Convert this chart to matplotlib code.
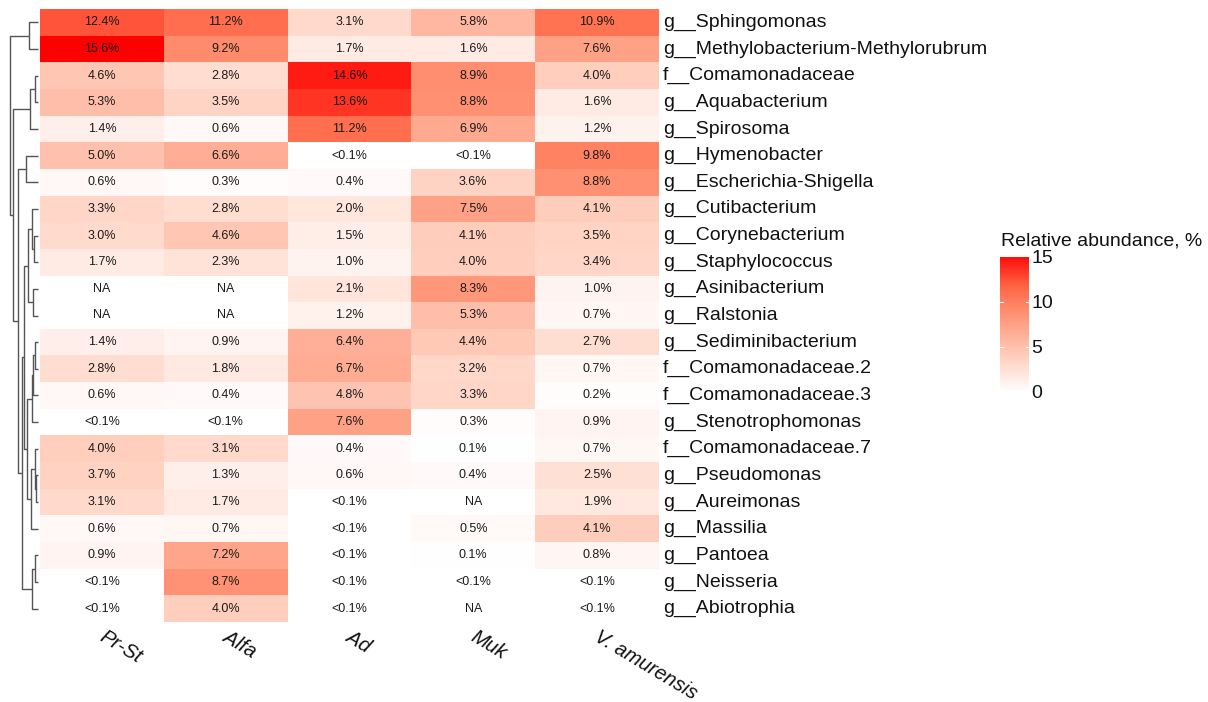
import numpy as np
import matplotlib
matplotlib.use('Agg')
import matplotlib.pyplot as plt
from matplotlib.colors import LinearSegmentedColormap, Normalize

### Relative abundance (%) of top taxa per sample; nan = NA, 0.05 stands for "<0.1"
samples= ['Pr-St','Alfa','Ad','Muk','V. amurensis']
taxa= ['g__Sphingomonas','g__Methylobacterium-Methylorubrum','f__Comamonadaceae',
       'g__Aquabacterium','g__Spirosoma','g__Hymenobacter','g__Escherichia-Shigella',
       'g__Cutibacterium','g__Corynebacterium','g__Staphylococcus','g__Asinibacterium',
       'g__Ralstonia','g__Sediminibacterium','f__Comamonadaceae.2','f__Comamonadaceae.3',
       'g__Stenotrophomonas','f__Comamonadaceae.7','g__Pseudomonas','g__Aureimonas',
       'g__Massilia','g__Pantoea','g__Neisseria','g__Abiotrophia']
NA= np.nan
pr_st= [12.4,15.6,4.6,5.3,1.4,5.0,0.6,3.3,3.0,1.7,NA,NA,1.4,2.8,0.6,0.05,4.0,3.7,3.1,0.6,0.9,0.05,0.05]
alfa=  [11.2,9.2,2.8,3.5,0.6,6.6,0.3,2.8,4.6,2.3,NA,NA,0.9,1.8,0.4,0.05,3.1,1.3,1.7,0.7,7.2,8.7,4.0]
ad=    [3.1,1.7,14.6,13.6,11.2,0.05,0.4,2.0,1.5,1.0,2.1,1.2,6.4,6.7,4.8,7.6,0.4,0.6,0.05,0.05,0.05,0.05,0.05]
muk=   [5.8,1.6,8.9,8.8,6.9,0.05,3.6,7.5,4.1,4.0,8.3,5.3,4.4,3.2,3.3,0.3,0.1,0.4,NA,0.5,0.1,0.05,NA]
v_amur=[10.9,7.6,4.0,1.6,1.2,9.8,8.8,4.1,3.5,3.4,1.0,0.7,2.7,0.7,0.2,0.9,0.7,2.5,1.9,4.1,0.8,0.05,0.05]

### Row clustering: (left, right, height); leaves 0..22, new nodes numbered from 23
merges= [(0,1,9),(2,3,3),(24,4,8),(5,6,12),(8,9,4),(7,27,6),(10,11,5),(28,29,10),
         (12,13,3.5),(31,14,5),(32,15,6.3),(17,18,2),(16,34,3.5),(35,19,7),(33,36,11.5),
         (30,37,14),(20,21,3),(39,22,6),(38,40,16),(26,41,20),(25,42,25.3),(23,43,28)]

cbar_ticks= [0,5,10,15]

def cell_label(v):
    if np.isnan(v): return 'NA'
    if v<0.1: return '<0.1%'
    return '{:.1f}%'.format(v)

def draw_dendro(ax, merges, nleaf, c='#555555'):
    ypos= {i: float(i) for i in range(nleaf)}
    hgt= {i: 0. for i in range(nleaf)}
    for k,(a,b,h) in enumerate(merges):
        ya,yb= ypos[a],ypos[b]
        ax.plot([hgt[a],h,h,hgt[b]],[ya,ya,yb,yb],c=c,lw=1.0,solid_capstyle='butt')
        ypos[nleaf+k]= (ya+yb)/2
        hgt[nleaf+k]= h
    return

def main():
    vals= np.array([pr_st,alfa,ad,muk,v_amur]).T
    pdata= dict(vals=vals, rows=taxa, cols=samples, merges=merges, fnout='out.png')
    plot_main(pdata)
    return

def plot_main(pdata):
    vals= pdata['vals']
    nr,nc= vals.shape
    W,H= 1208,702
    plt.rcParams['font.family']= ['Liberation Sans','DejaVu Sans']

    fig= plt.figure()
    fig.set_size_inches(W/100,H/100)

    def px_axes(x0,y0,x1,y1):  # pixel box (top-left origin) -> axes
        return fig.add_axes([x0/W,1-y1/H,(x1-x0)/W,(y1-y0)/H])

    cmap= LinearSegmentedColormap.from_list('wr',[(0,'#FFFFFF'),(0.25,'#FFCFBE'),
                    (0.5,'#FF9E82'),(0.75,'#FF6746'),(1,'#FF0000')])
    cmap.set_bad('white')
    norm= Normalize(vmin=0,vmax=np.nanmax(vals))

    ### Heatmap
    ax1= px_axes(40,9,659,622)
    ax1.pcolormesh(np.arange(nc+1),np.arange(nr+1),np.ma.masked_invalid(vals),
                   cmap=cmap,norm=norm,edgecolors='none')
    ax1.set_xlim(0,nc); ax1.set_ylim(nr,0)
    ax1.axis('off')
    for i in range(nr):
        for j in range(nc):
            ax1.text(j+0.5,i+0.5,cell_label(vals[i,j]),ha='center',va='center',
                     fontsize=9,color='#1a1a1a')
        ax1.text(nc+0.03,i+0.5,pdata['rows'][i],ha='left',va='center',fontsize=14,
                 color='#111111',clip_on=False)
    for j,lab in enumerate(pdata['cols']):
        ax1.text(j+0.53,nr+0.18,lab,ha='left',va='top',rotation=-31,rotation_mode='anchor',
                 fontsize=14.5,style='italic',color='#111111',clip_on=False)

    ### Dendrogram of rows
    ax0= px_axes(0,9,40,622)
    draw_dendro(ax0,pdata['merges'],nr)
    ax0.set_xlim(38,-2); ax0.set_ylim(nr-0.5,-0.5)
    ax0.axis('off')

    ### Colour key
    ax2= px_axes(1000,257,1029,392)
    grad= np.linspace(0,cbar_ticks[-1],256)[:,None]
    ax2.imshow(grad,aspect='auto',cmap=cmap,norm=norm,origin='lower',
               extent=[0,1,0,cbar_ticks[-1]])
    ax2.set_xlim(0,1); ax2.set_ylim(0,cbar_ticks[-1])
    for t in cbar_ticks[1:-1]:
        ax2.plot([0,0.12],[t,t],c='white',lw=0.8)
        ax2.plot([0.88,1],[t,t],c='white',lw=0.8)
    for t in cbar_ticks:
        ax2.text(1.08,t-0.15,str(t),ha='left',va='center',fontsize=14,color='#111111')
    ax2.text(0.03,cbar_ticks[-1]+1.3,'Relative abundance, %',ha='left',va='baseline',
             fontsize=14,color='#111111')
    ax2.axis('off')

    fig.savefig(pdata['fnout'],dpi=100)
    return

if __name__ == "__main__":
    main()
